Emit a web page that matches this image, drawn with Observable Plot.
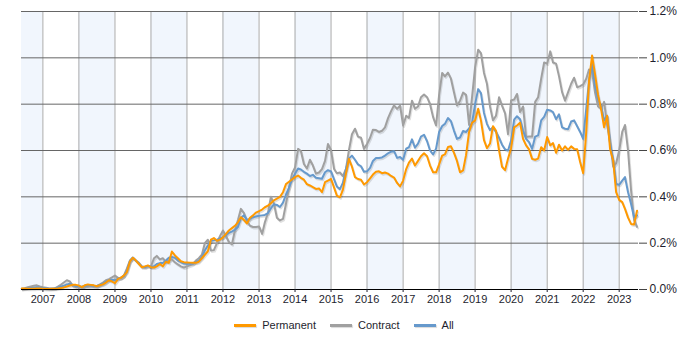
<!DOCTYPE html>
<html><head><meta charset="utf-8">
<script src="https://cdn.jsdelivr.net/npm/d3@7"></script>
<script src="https://cdn.jsdelivr.net/npm/@observablehq/plot@0.6"></script>
<style>
body{margin:0;background:#fff;font-family:"Liberation Sans",Arial,sans-serif;}
#chart{position:relative;width:700px;height:350px;overflow:hidden;}
#chart svg{display:block;}
#legend{position:absolute;left:-6px;top:319px;width:700px;display:flex;justify-content:center;align-items:center;font-size:11px;color:#1e1e2e;}
#legend .item{display:flex;align-items:center;margin:0 7px;}
#legend .sw{width:22px;height:3px;margin-right:6px;box-shadow:1px 1px 1px rgba(0,0,0,0.15);}
</style></head><body><div id="chart"></div>
<script>
const startYear = 2006, startMonth = 6; // first monthly point: June 2006
const permanent = [
0.004,0.004,0.003,0.003,0.003,0.004,0.004,
0.003,0.002,0.002,0.003,0.003,0.004,0.006,0.009,0.013,0.017,0.020,0.020,
0.017,0.010,0.018,0.022,0.020,0.018,0.014,0.018,0.022,0.030,0.040,0.035,
0.027,0.046,0.050,0.060,0.075,0.120,0.137,0.125,0.110,0.096,0.100,0.104,
0.096,0.095,0.100,0.110,0.100,0.120,0.115,0.164,0.147,0.135,0.122,0.118,
0.117,0.116,0.115,0.115,0.120,0.135,0.150,0.165,0.215,0.222,0.210,0.215,
0.225,0.240,0.255,0.265,0.275,0.290,0.312,0.300,0.285,0.310,0.320,0.332,
0.338,0.345,0.355,0.362,0.372,0.385,0.392,0.400,0.420,0.455,0.465,0.475,
0.485,0.492,0.482,0.474,0.455,0.449,0.442,0.434,0.436,0.420,0.463,0.470,
0.477,0.440,0.405,0.398,0.430,0.500,0.564,0.530,0.485,0.477,0.474,0.453,
0.463,0.480,0.496,0.508,0.510,0.502,0.505,0.500,0.490,0.483,0.460,0.445,
0.470,0.520,0.548,0.565,0.535,0.555,0.575,0.588,0.575,0.535,0.506,0.506,
0.540,0.578,0.583,0.615,0.618,0.590,0.555,0.506,0.514,0.580,0.680,0.720,
0.730,0.780,0.730,0.645,0.610,0.630,0.705,0.685,0.600,0.530,0.515,0.565,
0.610,0.700,0.708,0.720,0.650,0.622,0.605,0.564,0.560,0.565,0.614,0.600,
0.658,0.622,0.632,0.590,0.625,0.600,0.618,0.603,0.618,0.607,0.605,0.550,
0.502,0.680,0.900,1.010,0.930,0.840,0.780,0.700,0.750,0.605,0.557,0.420,
0.387,0.377,0.348,0.310,0.283,0.280,0.340];
const contract = [
0.003,0.006,0.010,0.013,0.016,0.018,0.013,
0.010,0.008,0.005,0.004,0.005,0.012,0.020,0.030,0.040,0.035,0.015,0.010,
0.010,0.012,0.014,0.012,0.015,0.013,0.015,0.022,0.030,0.040,0.045,0.052,
0.060,0.050,0.050,0.060,0.090,0.125,0.138,0.125,0.115,0.100,0.096,0.100,
0.100,0.135,0.145,0.130,0.135,0.120,0.125,0.130,0.118,0.108,0.100,0.095,
0.100,0.104,0.110,0.125,0.135,0.150,0.200,0.215,0.168,0.170,0.200,0.230,
0.255,0.230,0.205,0.195,0.255,0.300,0.348,0.330,0.295,0.275,0.270,0.270,
0.272,0.240,0.290,0.330,0.400,0.370,0.310,0.298,0.305,0.370,0.440,0.500,
0.527,0.607,0.598,0.542,0.522,0.560,0.535,0.500,0.505,0.520,0.555,0.628,
0.600,0.520,0.502,0.505,0.490,0.520,0.600,0.670,0.694,0.660,0.655,0.607,
0.628,0.655,0.690,0.688,0.680,0.685,0.700,0.740,0.770,0.795,0.780,0.794,
0.708,0.750,0.741,0.815,0.780,0.790,0.830,0.842,0.830,0.800,0.744,0.708,
0.840,0.935,0.920,0.936,0.910,0.850,0.794,0.815,0.850,0.840,0.710,0.830,
0.960,1.035,1.020,0.935,0.888,0.790,0.730,0.750,0.830,0.794,0.760,0.670,
0.816,0.820,0.844,0.766,0.790,0.658,0.660,0.660,0.810,0.830,0.910,0.980,
0.975,1.028,0.980,0.975,0.920,0.852,0.815,0.852,0.888,0.914,0.873,0.878,
0.885,0.910,0.950,0.940,0.850,0.790,0.780,0.810,0.710,0.635,0.530,0.545,
0.600,0.680,0.710,0.600,0.430,0.300,0.270];
const all = [
0.002,0.003,0.005,0.007,0.008,0.010,0.008,
0.006,0.004,0.003,0.003,0.004,0.008,0.012,0.016,0.022,0.025,0.020,0.015,
0.014,0.011,0.016,0.018,0.018,0.016,0.015,0.020,0.025,0.033,0.040,0.042,
0.040,0.047,0.050,0.058,0.080,0.122,0.137,0.125,0.112,0.098,0.097,0.102,
0.097,0.100,0.110,0.114,0.114,0.125,0.137,0.140,0.137,0.125,0.118,0.112,
0.111,0.111,0.112,0.118,0.125,0.140,0.168,0.190,0.210,0.212,0.215,0.220,
0.226,0.235,0.245,0.250,0.258,0.270,0.310,0.320,0.300,0.305,0.312,0.315,
0.318,0.320,0.322,0.330,0.350,0.368,0.365,0.356,0.375,0.410,0.440,0.475,
0.500,0.522,0.518,0.508,0.500,0.490,0.495,0.482,0.480,0.478,0.506,0.515,
0.510,0.475,0.445,0.433,0.460,0.520,0.565,0.578,0.560,0.540,0.532,0.508,
0.510,0.525,0.555,0.568,0.568,0.570,0.578,0.588,0.595,0.597,0.568,0.572,
0.560,0.608,0.614,0.648,0.612,0.630,0.660,0.668,0.640,0.600,0.583,0.608,
0.680,0.706,0.715,0.740,0.727,0.685,0.650,0.656,0.684,0.680,0.695,0.720,
0.800,0.865,0.848,0.762,0.715,0.688,0.700,0.680,0.655,0.625,0.605,0.600,
0.643,0.733,0.748,0.735,0.686,0.650,0.636,0.607,0.660,0.665,0.730,0.745,
0.776,0.773,0.766,0.735,0.756,0.700,0.694,0.692,0.725,0.730,0.705,0.680,
0.650,0.780,0.900,0.975,0.880,0.820,0.790,0.730,0.750,0.628,0.557,0.455,
0.452,0.470,0.485,0.420,0.370,0.312,0.320];
const seriesNames = ["Permanent", "Contract", "All"];
const seriesColors = ["#ff9900", "#a0a0a0", "#6699cc"];
const yearTicks = [2007,2008,2009,2010,2011,2012,2013,2014,2015,2016,2017,2018,2019,2020,2021,2022,2023];
const bandYears = [2006,2008,2010,2012,2014,2016,2018,2020,2022];
const yTicks = [0, 0.2, 0.4, 0.6, 0.8, 1.0, 1.2];

const monthDate = i => new Date(Date.UTC(startYear, startMonth - 1 + i, 1));
const seriesValues = {Permanent: permanent, Contract: contract, All: all};
const rows = name => seriesValues[name].map((v, i) => ({date: monthDate(i), value: v, series: name}));
const drawOrder = ["Contract", "All", "Permanent"];
const colorOf = name => seriesColors[seriesNames.indexOf(name)];

const lineMarks = [];
for (const name of drawOrder) {
  lineMarks.push(Plot.line(rows(name), {x: "date", y: "value", stroke: "#000", strokeOpacity: 0.12, strokeWidth: 2, dx: 1, dy: 1.5}));
}
for (const name of drawOrder) {
  lineMarks.push(Plot.line(rows(name), {x: "date", y: "value", stroke: colorOf(name), strokeWidth: 2}));
}

const chart = Plot.plot({
  width: 700, height: 310,
  marginLeft: 21, marginRight: 62, marginTop: 11, marginBottom: 21,
  style: {fontFamily: '"Liberation Sans", Arial, sans-serif', fontSize: "11px", color: "#1e1e2e", background: "#fff"},
  x: {type: "utc", domain: [new Date(Date.UTC(2006, 4, 29)), new Date(Date.UTC(2023, 6, 16))], label: null},
  y: {domain: [0, 1.2], label: null},
  marks: [
    Plot.rect(bandYears, {x1: y => new Date(Date.UTC(y, 0, 1)), x2: y => new Date(Date.UTC(y + 1, 0, 1)), y1: 0, y2: 1.2, fill: "#f1f6fd", clip: true}),
    Plot.ruleX(yearTicks, {x: y => new Date(Date.UTC(y, 0, 1)), stroke: "#aaaaaa", strokeWidth: 1}),
    Plot.ruleY(yTicks.filter(d => d > 0), {stroke: "#666", strokeWidth: 1}),
    ...lineMarks,
    Plot.ruleY([0], {stroke: "#000", strokeWidth: 1}),
    Plot.axisX({ticks: yearTicks.map(y => new Date(Date.UTC(y, 0, 1))), tickFormat: d => String(d.getUTCFullYear()), tickSize: 3, tickPadding: 3, label: null, fontSize: 11}),
    Plot.axisY({anchor: "right", ticks: yTicks, tickSize: 8, tickPadding: 3, tickFormat: d => d.toFixed(1) + "%", label: null, fontSize: 12, stroke: "#444"})
  ]
});
const host = document.getElementById("chart");
host.appendChild(chart);
const legend = document.createElement("div");
legend.id = "legend";
seriesNames.forEach((name, i) => {
  const item = document.createElement("div");
  item.className = "item";
  const sw = document.createElement("span");
  sw.className = "sw";
  sw.style.background = seriesColors[i];
  const label = document.createElement("span");
  label.textContent = name;
  item.appendChild(sw); item.appendChild(label);
  legend.appendChild(item);
});
host.appendChild(legend);
</script>
</body></html>
